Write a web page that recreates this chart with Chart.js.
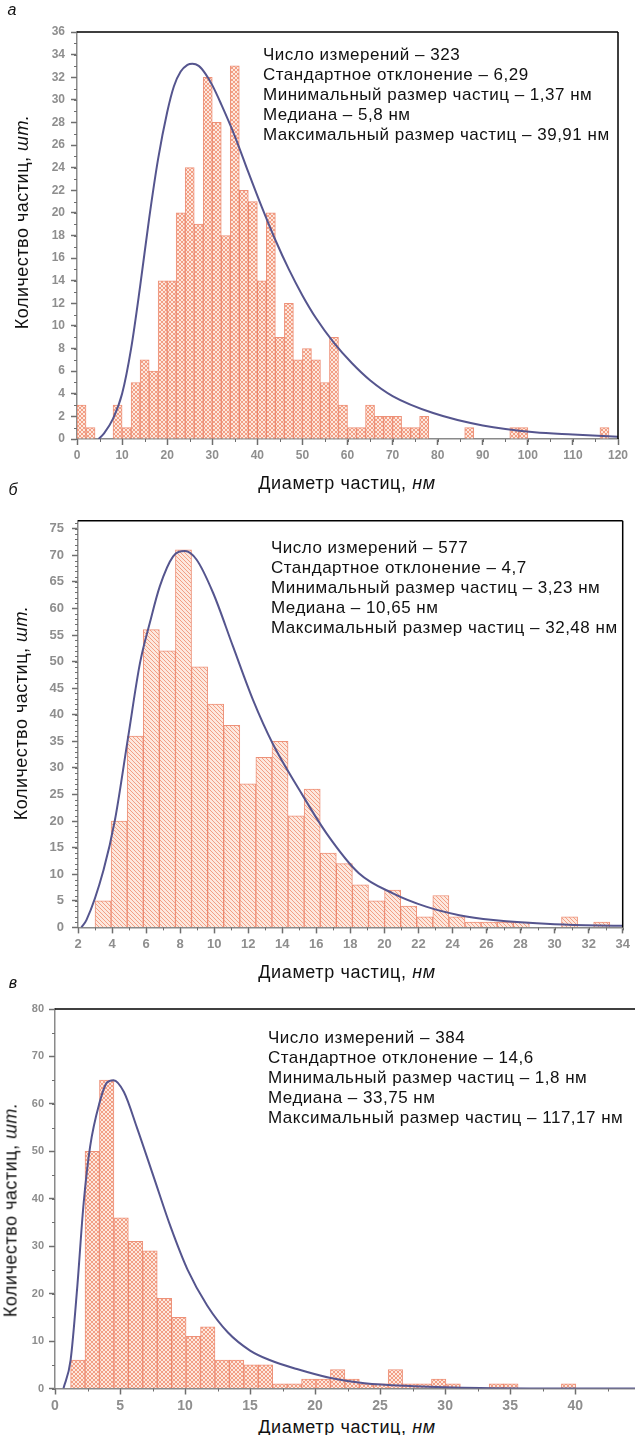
<!DOCTYPE html>
<html>
<head>
<meta charset="utf-8">
<script src="https://cdn.jsdelivr.net/npm/chart.js@4.4.1/dist/chart.umd.min.js"></script>
<style>
  html, body { margin: 0; padding: 0; background: #fff; }
  #page { position: relative; width: 635px; height: 1435px; overflow: hidden;
          font-family: "Liberation Sans", Arial, sans-serif; color: #111; }
  canvas { position: absolute; left: 0; }
  .c { position: absolute; white-space: nowrap; transform: translate(-50%, -50%); }
  .letter { font-style: italic; font-size: 16px; }
  .xt { font-size: 18px; letter-spacing: 0.6px; }
  .yt { font-size: 18px; letter-spacing: 0.5px; transform: translate(-50%, -50%) rotate(-90deg); }
  .info { position: absolute; font-size: 17px; letter-spacing: 0.5px; line-height: 20px; white-space: nowrap; }
</style>
</head>
<body>
<div id="page">
  <canvas id="chartA"></canvas>
  <canvas id="chartB"></canvas>
  <canvas id="chartC"></canvas>

  <div class="c letter" style="left:12px; top:10px;">а</div>
  <div class="c letter" style="left:13px; top:490px;">б</div>
  <div class="c letter" style="left:13px; top:983px;">в</div>

  <div class="c yt" style="left:22px; top:222px;">Количество частиц, <i>шт.</i></div>
  <div class="c yt" style="left:21px; top:713px;">Количество частиц, <i>шт.</i></div>
  <div class="c yt" style="left:11px; top:1210px;">Количество частиц, <i>шт.</i></div>

  <div class="c xt" style="left:347px; top:483px;">Диаметр частиц, <i>нм</i></div>
  <div class="c xt" style="left:347px; top:972px;">Диаметр частиц, <i>нм</i></div>
  <div class="c xt" style="left:347px; top:1427px;">Диаметр частиц, <i>нм</i></div>

  <div class="info" style="left:263px; top:45px;">
    Число измерений – 323<br>Стандартное отклонение – 6,29<br>Минимальный размер частиц – 1,37 нм<br>Медиана – 5,8 нм<br>Максимальный размер частиц – 39,91 нм
  </div>
  <div class="info" style="left:271px; top:538px;">
    Число измерений – 577<br>Стандартное отклонение – 4,7<br>Минимальный размер частиц – 3,23 нм<br>Медиана – 10,65 нм<br>Максимальный размер частиц – 32,48 нм
  </div>
  <div class="info" style="left:268px; top:1028px;">
    Число измерений – 384<br>Стандартное отклонение – 14,6<br>Минимальный размер частиц – 1,8 нм<br>Медиана – 33,75 нм<br>Максимальный размер частиц – 117,17 нм
  </div>
</div>

<script>
// ---- panel а : histogram, bins of 2 nm starting at 0
const binStartA = 0;
const binWidthA = 2;
const countsA = [3, 1, 0, 0, 3, 1, 5, 7, 6, 14,
                 14, 20, 24, 19, 32, 28, 18, 33, 22, 21,
                 14, 20, 9, 12, 7, 8, 7, 5, 9, 3,
                 1, 1, 3, 2, 2, 2, 1, 1, 2, 0,
                 0, 0, 0, 1, 0, 0, 0, 0, 1, 1,
                 0, 0, 0, 0, 0, 0, 0, 0, 1, 0];
const curveAx = [4.8, 6, 8, 10, 12, 14, 16, 18, 20, 21.5, 23, 24.5, 25.6, 27, 28.5, 30, 32, 35, 38, 41, 44, 47, 50, 53, 57, 61, 65, 70, 79, 90, 101.5, 110, 120];
const curveAy = [0, 0.5, 1.8, 4.0, 8.0, 13.5, 19.5, 24.8, 28.9, 31.2, 32.5, 33.1, 33.2, 33.0, 32.3, 31.3, 29.6, 26.8, 23.6, 20.5, 17.6, 15.0, 12.7, 10.7, 8.5, 6.7, 5.2, 3.8, 2.3, 1.2, 0.6, 0.4, 0.2];

// ---- panel б
const binStartB = 3.0;
const binWidthB = 0.945;
const countsB = [5, 20, 36, 56, 52, 71, 49, 42, 38, 27,
                 32, 35, 21, 26, 14, 12, 8, 5, 7, 4,
                 2, 6, 2, 1, 1, 1, 1, 0, 0, 2, 0, 1];
const curveBx = [2.2, 2.5, 3.5, 4.17, 4.95, 5.64, 6.22, 6.81, 7.59, 8.28, 8.96, 9.94, 11.1, 12.28, 13.45, 15, 16.6, 18.5, 20.5, 22.45, 24.4, 26.4, 30, 34];
const curveBy = [0, 1.4, 10.8, 20.2, 35.9, 49.7, 57.3, 64.2, 69.8, 70.8, 69.2, 62.9, 52.9, 42.8, 34.5, 25.9, 17.7, 10.2, 6.4, 3.9, 2.3, 1.4, 0.6, 0.3];

// ---- panel в
const binStartC = 1.2;
const binWidthC = 1.11;
const countsC = [6, 50, 65, 36, 31, 29, 19, 15, 11, 13,
                 6, 6, 5, 5, 1, 1, 2, 2, 4, 2,
                 1, 1, 4, 1, 1, 2, 1, 0, 0, 1,
                 1, 0, 0, 0, 1];
const curveCx = [0.65, 1.2, 1.7, 2.2, 2.7, 3.4, 4.0, 4.5, 5.3, 6.3, 7.6, 8.9, 10.2, 11.7, 13.3, 15, 16.5, 18.6, 21.2, 23.8, 27.6, 32.7, 38, 44.6];
const curveCy = [0, 6, 21, 39, 51, 60, 64.5, 65, 62.5, 55, 44.5, 34, 25, 17.5, 11.8, 8, 6, 4.1, 2.2, 1.1, 0.5, 0.1, 0, 0];

const AXIS_GREY = '#8a8a8a';
const LABEL_GREY = '#8e8e8e';

// hatched fill for the histogram bars
function hatch(kind) {
    const c = document.createElement('canvas');
    c.width = 4; c.height = 4;
    const g = c.getContext('2d');
    g.fillStyle = '#fde8de';
    g.fillRect(0, 0, 4, 4);
    g.fillStyle = 'rgba(236,128,96,0.7)';
    for (let i = 0; i < 4; i++) {
        if (kind !== 'fwd') g.fillRect(i, i, 1, 1);        // "\"
        if (kind !== 'back') g.fillRect(i, 3 - i, 1, 1);   // "/"
    }
    return g.createPattern(c, 'repeat');
}

// frame (black top / right line) and small minor ticks
const framePlugin = {
    id: 'frame',
    afterDraw(chart, args, o) {
        const { ctx, chartArea: a } = chart;
        const x = chart.scales.x, y = chart.scales.y;
        ctx.save();
        ctx.strokeStyle = '#000';
        ctx.lineWidth = 1.5;
        ctx.beginPath();
        ctx.moveTo(a.left, a.top);
        ctx.lineTo(o.openRight ? chart.width : a.right, a.top);
        if (!o.openRight) {
            ctx.moveTo(a.right, a.top);
            ctx.lineTo(a.right, a.bottom);
        }
        ctx.stroke();

        ctx.strokeStyle = '#6f6f6f';
        ctx.lineWidth = 1;
        ctx.beginPath();
        for (let v = x.min; v <= x.max + 1e-9; v += o.xMinor) {
            const p = Math.round(x.getPixelForValue(v)) + 0.5;
            ctx.moveTo(p, a.bottom);
            ctx.lineTo(p, a.bottom + 3);
        }
        for (let v = y.min; v <= y.max + 1e-9; v += o.yMinor) {
            const p = Math.round(y.getPixelForValue(v)) + 0.5;
            ctx.moveTo(a.left, p);
            ctx.lineTo(a.left - 3, p);
        }
        ctx.stroke();
        ctx.restore();
    }
};

function makeHist(id, p) {
    const cv = document.getElementById(id);
    cv.style.top = p.top + 'px';
    cv.width = 635;
    cv.height = p.height;
    cv.style.width = '635px';
    cv.style.height = p.height + 'px';

    const bars = p.counts.map((n, i) => ({ x: p.binStart + (i + 0.5) * p.binWidth, y: n }));
    const curve = p.cx.map((v, i) => ({ x: v, y: p.cy[i] }));

    const fam = 'Liberation Sans, Arial, sans-serif';

    return new Chart(cv, {
        type: 'bar',
        data: {
            datasets: [{
                type: 'line',
                data: curve,
                borderColor: '#55558e',
                borderWidth: 2,
                pointRadius: 0,
                cubicInterpolationMode: 'monotone',
                fill: false,
                order: 0
            }, {
                type: 'bar',
                data: bars,
                backgroundColor: hatch(p.pattern),
                borderColor: 'rgba(232,118,88,0.8)',
                borderWidth: 1,
                barPercentage: 1,
                categoryPercentage: 1,
                order: 1
            }]
        },
        options: {
            responsive: false,
            animation: false,
            layout: { padding: { top: p.padTop, right: p.padRight, left: 0, bottom: 0 } },
            plugins: {
                legend: { display: false },
                tooltip: { enabled: false },
                frame: { openRight: p.openRight, xMinor: p.xMinor, yMinor: p.yMinor }
            },
            scales: {
                x: {
                    type: 'linear',
                    offset: false,
                    min: p.xMin, max: p.xMax,
                    grid: { offset: false, drawOnChartArea: false, tickLength: 6, tickColor: '#6f6f6f', tickWidth: 1.5 },
                    border: { color: AXIS_GREY, width: 1.5 },
                    ticks: { stepSize: p.xStep, includeBounds: false, autoSkip: false, maxRotation: 0,
                             color: LABEL_GREY, font: { family: fam, size: p.xFont, weight: 'bold' }, padding: 3 },
                    afterFit(s) { s.height = p.xAxisH; }
                },
                y: {
                    min: 0, max: p.yMax,
                    grid: { drawOnChartArea: false, tickLength: 6, tickColor: '#6f6f6f', tickWidth: 1.5 },
                    border: { color: AXIS_GREY, width: 1.5 },
                    ticks: { stepSize: p.yStep, includeBounds: false, autoSkip: false,
                             color: LABEL_GREY, font: { family: fam, size: p.yFont, weight: 'bold' }, padding: p.yPad },
                    afterFit(s) { s.width = p.yAxisW; }
                }
            }
        },
        plugins: [framePlugin]
    });
}

makeHist('chartA', {
    top: 0, height: 475, padTop: 32, padRight: 17, yAxisW: 77, xAxisH: 36,
    counts: countsA, binStart: binStartA, binWidth: binWidthA, cx: curveAx, cy: curveAy,
    xMin: 0, xMax: 120, xStep: 10, xMinor: 5, yMax: 36, yStep: 2, yMinor: 1,
    xFont: 12, yFont: 12, yPad: 6, pattern: 'cross', openRight: false
});

makeHist('chartB', {
    top: 480, height: 485, padTop: 40.7, padRight: 12.3, yAxisW: 78, xAxisH: 37.6,
    counts: countsB, binStart: binStartB, binWidth: binWidthB, cx: curveBx, cy: curveBy,
    xMin: 2, xMax: 34, xStep: 2, xMinor: 1, yMax: 76.5, yStep: 5, yMinor: 1,
    xFont: 13, yFont: 13, yPad: 8, pattern: 'back', openRight: false
});

makeHist('chartC', {
    top: 990, height: 425, padTop: 19, padRight: 0, yAxisW: 55, xAxisH: 26.5,
    counts: countsC, binStart: binStartC, binWidth: binWidthC, cx: curveCx, cy: curveCy,
    xMin: 0, xMax: 44.6, xStep: 5, xMinor: 2.5, yMax: 80, yStep: 10, yMinor: 5,
    xFont: 14, yFont: 11, yPad: 5, pattern: 'cross', openRight: true
});
</script>
</body>
</html>
